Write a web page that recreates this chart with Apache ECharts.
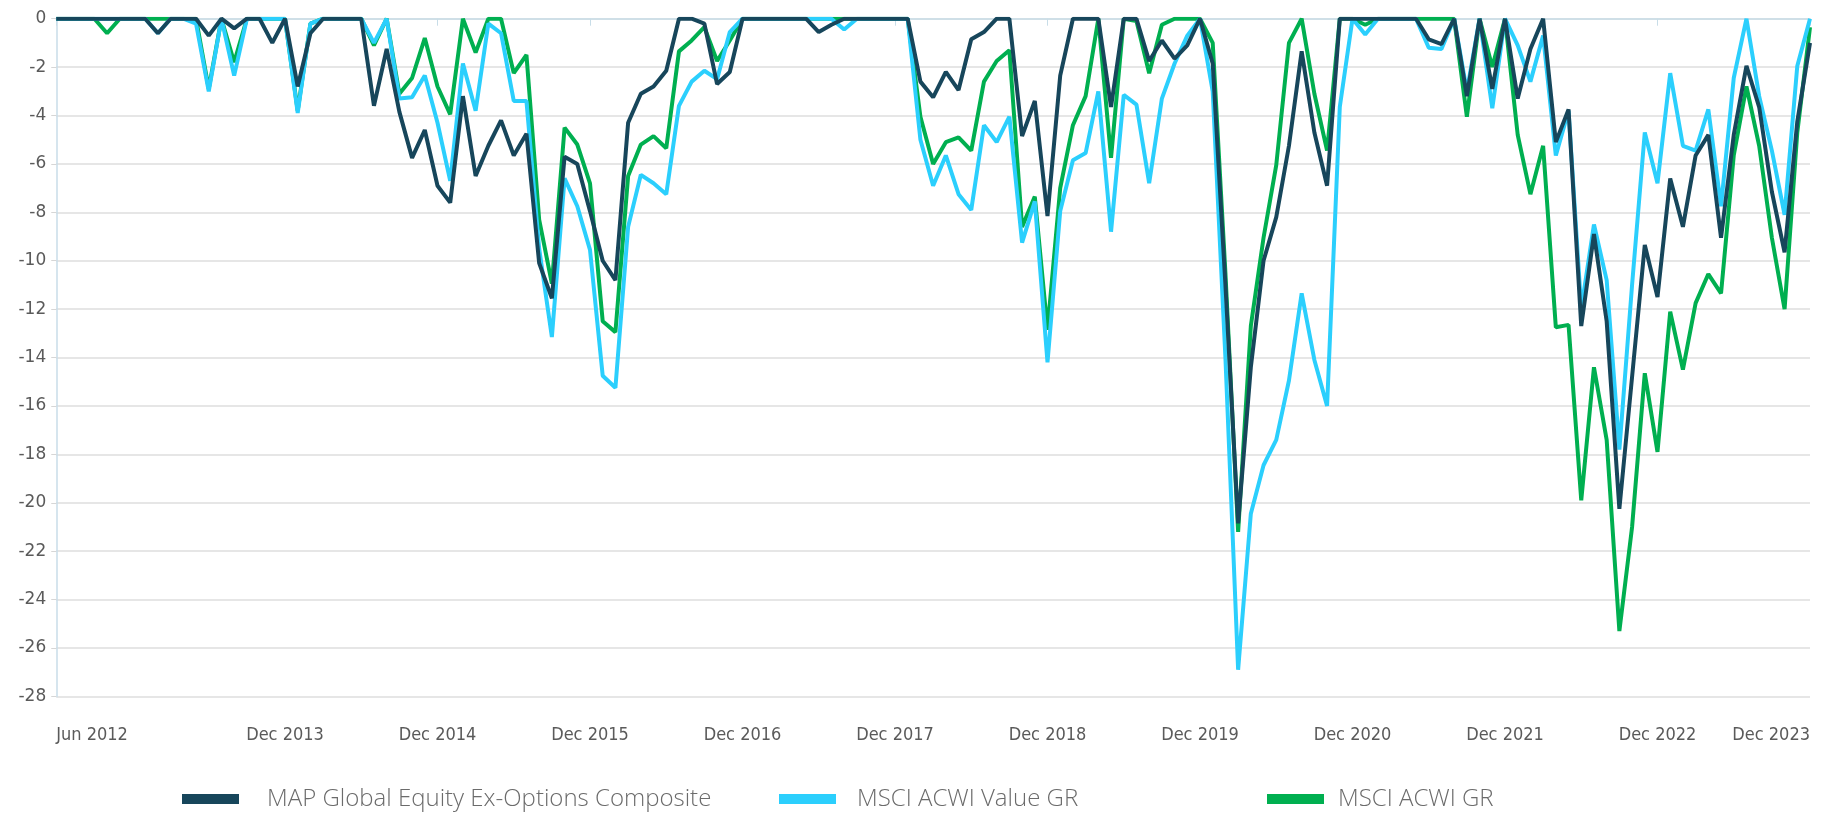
<!DOCTYPE html>
<html>
<head>
<meta charset="utf-8">
<script src="https://cdn.jsdelivr.net/npm/echarts@6/dist/echarts.min.js"></script>
<style>
html,body{margin:0;padding:0;background:#fff;}
#chart{width:1829px;height:817px;}
</style>
</head>
<body>
<div id="chart"></div>
<script>
// Monthly drawdown (%) from Jun 2012 to Dec 2023
const startYear = 2012, startMonth = 5, monthCount = 139;
const monthNames = ['Jan','Feb','Mar','Apr','May','Jun','Jul','Aug','Sep','Oct','Nov','Dec'];
const categories = [];
for (let k = 0; k < monthCount; k++) {
  const m = (startMonth + k) % 12;
  const y = startYear + Math.floor((startMonth + k) / 12);
  categories.push(monthNames[m] + ' ' + y);
}
const tickLabels = ['Jun 2012','Dec 2013','Dec 2014','Dec 2015','Dec 2016','Dec 2017','Dec 2018','Dec 2019','Dec 2020','Dec 2021','Dec 2022','Dec 2023'];
const yTicks = [0,-2,-4,-6,-8,-10,-12,-14,-16,-18,-20,-22,-24,-26,-28];

const mapComposite = [
  0,0,0,0,0,0,0,0,-0.6,0,0,0,
  -0.7,0,-0.4,0,0,-1.0,0,-2.8,-0.6,0,0,0,
  0,-3.6,-1.25,-3.85,-5.75,-4.6,-6.9,-7.6,-3.2,-6.5,-5.25,-4.2,
  -5.65,-4.75,-10.1,-11.55,-5.7,-6.0,-7.95,-10.0,-10.8,-4.3,-3.1,-2.8,
  -2.15,0,0,-0.2,-2.7,-2.2,0,0,0,0,0,0,
  -0.55,-0.25,0,0,0,0,0,0,-2.6,-3.25,-2.2,-2.95,
  -0.85,-0.55,0,0,-4.85,-3.4,-8.15,-2.35,0,0,0,-3.65,
  0,0,-1.75,-0.9,-1.65,-1.1,0,-1.85,-11.0,-20.85,-14.4,-10.0,
  -8.2,-5.25,-1.35,-4.7,-6.9,0,0,0,0,0,0,0,
  -0.85,-1.05,0,-3.2,0,-2.9,0,-3.3,-1.25,0,-5.1,-3.75,
  -12.7,-8.9,-12.5,-20.25,-14.8,-9.35,-11.5,-6.6,-8.6,-5.65,-4.8,-9.05,
  -4.8,-1.95,-3.65,-7.15,-9.65,-4.25,-1.0
];
const acwiValue = [
  0,0,0,0,0,0,0,0,-0.6,0,0,-0.2,
  -3.0,0,-2.35,0,0,0,0,-3.9,-0.2,0,0,0,
  0,-1.0,0,-3.3,-3.25,-2.35,-4.3,-6.7,-1.85,-3.8,-0.2,-0.6,
  -3.4,-3.4,-9.5,-13.15,-6.6,-7.75,-9.55,-14.75,-15.25,-8.6,-6.45,-6.8,
  -7.25,-3.6,-2.6,-2.15,-2.5,-0.55,0,0,0,0,0,0,
  0,0,-0.45,0,0,0,0,0,-5.0,-6.9,-5.65,-7.25,
  -7.9,-4.4,-5.1,-4.05,-9.25,-7.55,-14.2,-7.95,-5.85,-5.55,-3.0,-8.8,
  -3.15,-3.55,-6.8,-3.3,-1.85,-0.7,0,-3.0,-14.0,-26.9,-20.45,-18.45,
  -17.4,-14.95,-11.35,-14.1,-16.0,-3.65,0,-0.65,0,0,0,0,
  -1.2,-1.25,0,-3.0,0,-3.7,0,-1.1,-2.6,-0.7,-5.65,-3.8,
  -12.0,-8.5,-10.8,-17.8,-11.0,-4.7,-6.8,-2.25,-5.25,-5.45,-3.75,-7.75,
  -2.45,0,-3.2,-5.45,-8.1,-1.95,0
];
const acwi = [
  0,0,0,0,-0.6,0,0,0,0,0,0,0,
  -2.9,0,-1.8,0,0,0,0,-3.8,-0.2,0,0,0,
  0,-1.1,0,-3.1,-2.45,-0.8,-2.8,-3.95,0,-1.4,0,0,
  -2.25,-1.5,-8.3,-10.95,-4.5,-5.2,-6.8,-12.5,-12.95,-6.5,-5.2,-4.85,
  -5.35,-1.35,-0.9,-0.35,-1.75,-0.9,0,0,0,0,0,0,
  0,0,0,0,0,0,0,0,-4.05,-6.0,-5.1,-4.9,
  -5.45,-2.6,-1.75,-1.3,-8.6,-7.35,-12.85,-7.0,-4.4,-3.2,0,-5.75,
  0,-0.1,-2.25,-0.25,0,0,0,-1.0,-10.5,-21.2,-12.7,-9.05,
  -6.05,-1.0,0,-3.1,-5.45,0,0,-0.25,0,0,0,0,
  0,0,0,-4.05,0,-2.0,0,-4.8,-7.25,-5.25,-12.75,-12.65,
  -19.9,-14.4,-17.4,-25.3,-21.0,-14.65,-17.9,-12.1,-14.5,-11.75,-10.55,-11.35,
  -5.65,-2.8,-5.25,-9.05,-12.0,-4.7,-0.35
];

const seriesNames = ['MAP Global Equity Ex-Options Composite','MSCI ACWI Value GR','MSCI ACWI GR'];
const colors = ['#17465B','#2BCFFD','#00AF50'];

const chart = echarts.init(document.getElementById('chart'), null, {renderer:'canvas'});
const showTick = (idx, val) => tickLabels.indexOf(val) >= 0;
const legendText = {color:'#6b6b6b', fontFamily:"'Open Sans', sans-serif", fontWeight:300, fontSize:24, lineHeight:28};
function mkLegend(name, left, pad){
  return {
    data:[name], left:left, top:780, icon:'rect', itemWidth:57, itemHeight:10,
    selectedMode:false,
    textStyle:Object.assign({}, legendText, {padding:[0,0,0,pad]})
  };
}
chart.setOption({
  animation:false,
  backgroundColor:'#ffffff',
  grid:{left:56.25, right:19, top:18.7, bottom:120.6, containLabel:false},
  legend:[
    mkLegend(seriesNames[0], 177, 23),
    mkLegend(seriesNames[1], 774, 16),
    mkLegend(seriesNames[2], 1262, 9)
  ],
  xAxis:{
    type:'category', data:categories, boundaryGap:false, offset:4,
    axisLine:{show:true, lineStyle:{color:'#C8DDE8', width:1.5}},
    axisTick:{show:true, interval:showTick, length:7, lineStyle:{color:'#C8DDE8', width:1}},
    axisLabel:{interval:showTick, color:'#5a5a5a', fontSize:18, margin:26,
      fontFamily:"'Liberation Sans Narrow','DejaVu Sans Condensed',sans-serif",
      alignMinLabel:'left', alignMaxLabel:'right'},
    splitLine:{show:false}
  },
  yAxis:{
    type:'value', min:yTicks[yTicks.length-1], max:yTicks[0], interval:2,
    axisLine:{show:true, lineStyle:{color:'#C8DDE8', width:1.5}},
    axisTick:{show:true, length:5, lineStyle:{color:'#d6d6d6'}},
    axisLabel:{color:'#5a5a5a', fontSize:17, margin:10, fontFamily:"'DejaVu Sans',sans-serif"},
    splitLine:{show:true, lineStyle:{color:'#dedede', width:1.5}}
  },
  series:[
    {name:seriesNames[2], type:'line', data:acwi, symbol:'none', z:2,
      lineStyle:{color:colors[2], width:4}, itemStyle:{color:colors[2]}},
    {name:seriesNames[1], type:'line', data:acwiValue, symbol:'none', z:3,
      lineStyle:{color:colors[1], width:4}, itemStyle:{color:colors[1]}},
    {name:seriesNames[0], type:'line', data:mapComposite, symbol:'none', z:4,
      lineStyle:{color:colors[0], width:4}, itemStyle:{color:colors[0]}}
  ]
});
</script>
</body>
</html>
